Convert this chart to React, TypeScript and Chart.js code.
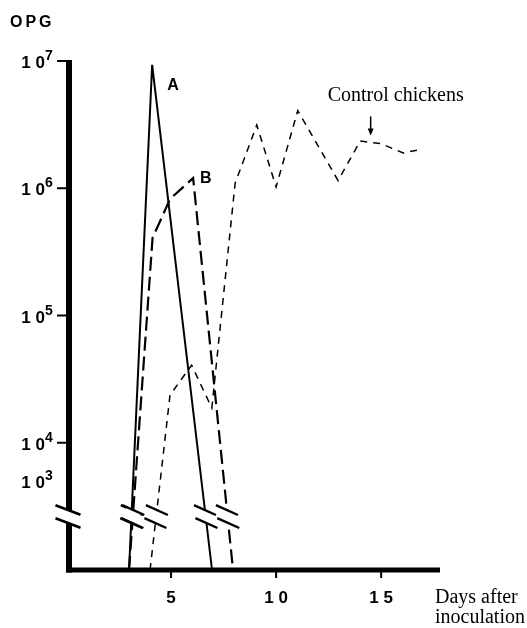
import React, { useEffect, useRef } from "react";
import { Chart, registerables } from "chart.js";

Chart.register(...registerables);

// ---- data (log10 OPG; axis bottom = 3 means "below detection", drawn to the axis) ----
const dayMin = 0;
const dayMax = 17.8;
const logMin = 3;
const logMax = 7;
const breakLog = 3.42; // where the axis / line break marks sit
const fakeLog3Position = 3.7; // 10^3 label is placed on the broken part of the axis

const xTickDays = [5, 10, 15];
const xTickLabels = ["5", "1 0", "1 5"];
const yTickExponents = [7, 6, 5, 4];

const lineADays = [3.0, 4.1, 6.95];
const lineALog = [3, 6.97, 3];

const lineBDays = [3.0, 4.12, 4.95, 6.05, 7.95];
const lineBLog = [3, 5.61, 5.915, 6.08, 3];

const controlDays = [4.0, 4.95, 5.98, 6.94, 8.05, 9.08, 10.0, 11.03, 12.95, 14.0, 15.0, 16.05, 16.95];
const controlLog = [3, 4.375, 4.61, 4.273, 6.04, 6.497, 6.01, 6.61, 6.06, 6.371, 6.35, 6.277, 6.308];

const arrowDay = 14.5;
const arrowLog = 6.36;

const toPoints = (xs: number[], ys: number[]) => xs.map((x, i) => ({ x, y: ys[i] }));

const SANS = "'Liberation Sans', Arial, sans-serif";
const SERIF = "'Liberation Serif', 'Times New Roman', serif";

const decorPlugin = {
  id: "decor",
  afterDatasetsDraw(chart: any) {
    const ctx: CanvasRenderingContext2D = chart.ctx;
    const xs = chart.scales.x;
    const ys = chart.scales.y;
    const x0 = xs.getPixelForValue(dayMin);
    const x1 = xs.getPixelForValue(dayMax);
    const yTop = ys.getPixelForValue(logMax);
    const yBot = ys.getPixelForValue(logMin);
    const yBreak = ys.getPixelForValue(breakLog);
    const s1 = yBreak - 6.5;
    const s2 = yBreak + 6.5;

    ctx.save();

    // ---- breaks on the data lines ----
    const m = 0.45;
    const half = 11;
    chart.data.datasets.forEach((_ds: any, i: number) => {
      const pts = chart.getDatasetMeta(i).data;
      for (let k = 0; k < pts.length - 1; k++) {
        const p = pts[k];
        const q = pts[k + 1];
        if ((p.y - yBreak) * (q.y - yBreak) < 0) {
          const xAt = (y: number) => p.x + ((q.x - p.x) * (y - p.y)) / (q.y - p.y);
          const c1 = xAt(s1);
          const c2 = xAt(s2);
          const w = 7;
          ctx.fillStyle = "#ffffff";
          ctx.beginPath();
          ctx.moveTo(c1 - w, s1 - w * m);
          ctx.lineTo(c1 + w, s1 + w * m);
          ctx.lineTo(c2 + w, s2 + w * m);
          ctx.lineTo(c2 - w, s2 - w * m);
          ctx.closePath();
          ctx.fill();
          ctx.strokeStyle = "#000";
          ctx.lineWidth = 2.4;
          ctx.setLineDash([]);
          [
            [c1, s1],
            [c2, s2],
          ].forEach(([cx, cy]) => {
            ctx.beginPath();
            ctx.moveTo(cx - half, cy - half * m);
            ctx.lineTo(cx + half, cy + half * m);
            ctx.stroke();
          });
        }
      }
    });

    // ---- axes ----
    ctx.setLineDash([]);
    ctx.strokeStyle = "#000";
    const axX = x0 + 3;
    ctx.lineWidth = 6;
    ctx.beginPath();
    ctx.moveTo(axX, yTop - 1);
    ctx.lineTo(axX, yBot + 2.5);
    ctx.stroke();
    ctx.lineWidth = 5;
    ctx.beginPath();
    ctx.moveTo(x0, yBot);
    ctx.lineTo(x1, yBot);
    ctx.stroke();

    // y-axis break
    const am = 0.38;
    const ah = 12.5;
    const ac = axX - 1;
    ctx.fillStyle = "#ffffff";
    ctx.beginPath();
    ctx.moveTo(ac - 5, s1 - 5 * am);
    ctx.lineTo(ac + 5, s1 + 5 * am);
    ctx.lineTo(ac + 5, s2 + 5 * am);
    ctx.lineTo(ac - 5, s2 - 5 * am);
    ctx.closePath();
    ctx.fill();
    ctx.lineWidth = 2.6;
    [s1, s2].forEach((cy) => {
      ctx.beginPath();
      ctx.moveTo(ac - ah, cy - ah * am);
      ctx.lineTo(ac + ah, cy + ah * am);
      ctx.stroke();
    });

    // y ticks and labels
    ctx.fillStyle = "#000";
    ctx.lineWidth = 2;
    const drawPow = (yy: number, exp: number, withTick: boolean) => {
      if (withTick) {
        ctx.beginPath();
        ctx.moveTo(x0 - 9, yy);
        ctx.lineTo(x0, yy);
        ctx.stroke();
      }
      ctx.font = `bold 17px ${SANS}`;
      ctx.textAlign = "right";
      ctx.textBaseline = "alphabetic";
      ctx.fillText("1 0", x0 - 21, yy + 7);
      ctx.font = `bold 14px ${SANS}`;
      ctx.textAlign = "left";
      ctx.fillText(String(exp), x0 - 21, yy - 1);
    };
    yTickExponents.forEach((e) => drawPow(ys.getPixelForValue(e), e, true));
    drawPow(ys.getPixelForValue(fakeLog3Position), 3, false);

    // x ticks and labels
    xTickDays.forEach((d, i) => {
      const px = xs.getPixelForValue(d);
      ctx.beginPath();
      ctx.moveTo(px, yBot);
      ctx.lineTo(px, yBot + 8);
      ctx.stroke();
      ctx.font = `bold 17px ${SANS}`;
      ctx.textAlign = "center";
      ctx.fillText(xTickLabels[i], px, yBot + 33);
    });

    // axis titles
    ctx.font = `bold 16px ${SANS}`;
    ctx.textAlign = "left";
    (ctx as any).letterSpacing = "3px";
    ctx.fillText("OPG", 10, 27);
    (ctx as any).letterSpacing = "0px";

    ctx.font = `20px ${SERIF}`;
    ctx.fillText("Days after", x1 - 5, yBot + 33);
    ctx.fillText("inoculation", x1 - 5, yBot + 53);

    // series labels
    const aMeta = chart.getDatasetMeta(0).data[1];
    const bMeta = chart.getDatasetMeta(1).data[3];
    ctx.font = `bold 16px ${SANS}`;
    ctx.fillText("A", aMeta.x + 15, aMeta.y + 25);
    ctx.fillText("B", bMeta.x + 7, bMeta.y + 5);

    // control chickens label + arrow
    const axp = xs.getPixelForValue(arrowDay);
    const ayp = ys.getPixelForValue(arrowLog) - 7;
    ctx.lineWidth = 1.5;
    ctx.beginPath();
    ctx.moveTo(axp, ayp - 19);
    ctx.lineTo(axp, ayp - 5);
    ctx.stroke();
    ctx.beginPath();
    ctx.moveTo(axp - 3, ayp - 7);
    ctx.lineTo(axp + 3, ayp - 7);
    ctx.lineTo(axp, ayp);
    ctx.closePath();
    ctx.fill();
    ctx.font = `20px ${SERIF}`;
    ctx.textAlign = "left";
    ctx.fillText("Control chickens", axp - 43, ayp - 34);

    ctx.restore();
  },
};

export default function App() {
  const ref = useRef<HTMLCanvasElement | null>(null);
  useEffect(() => {
    if (!ref.current) return;
    const chart = new Chart(ref.current, {
      type: "line",
      data: {
        datasets: [
          {
            label: "A",
            data: toPoints(lineADays, lineALog),
            borderColor: "#000",
            borderWidth: 2,
            pointRadius: 0,
            tension: 0,
            fill: false,
            clip: false as any,
          },
          {
            label: "B",
            data: toPoints(lineBDays, lineBLog),
            borderColor: "#000",
            borderWidth: 2.2,
            borderDash: [14, 6],
            pointRadius: 0,
            tension: 0,
            fill: false,
            clip: false as any,
          },
          {
            label: "Control chickens",
            data: toPoints(controlDays, controlLog),
            borderColor: "#000",
            borderWidth: 1.5,
            borderDash: [7, 6],
            pointRadius: 0,
            tension: 0,
            fill: false,
            clip: false as any,
          },
        ],
      },
      options: {
        responsive: false,
        animation: false,
        devicePixelRatio: 1,
        layout: { padding: { left: 66, right: 87, top: 61, bottom: 58 } },
        plugins: { legend: { display: false }, tooltip: { enabled: false } },
        scales: {
          x: { type: "linear", min: dayMin, max: dayMax, display: false },
          y: { type: "linear", min: logMin, max: logMax, display: false },
        },
      },
      plugins: [decorPlugin],
    });
    return () => chart.destroy();
  }, []);
  return (
    <div style={{ position: "absolute", left: 0, top: 0, width: 527, height: 628, background: "#fff" }}>
      <canvas ref={ref} width={527} height={628} style={{ width: 527, height: 628, display: "block" }} />
    </div>
  );
}
